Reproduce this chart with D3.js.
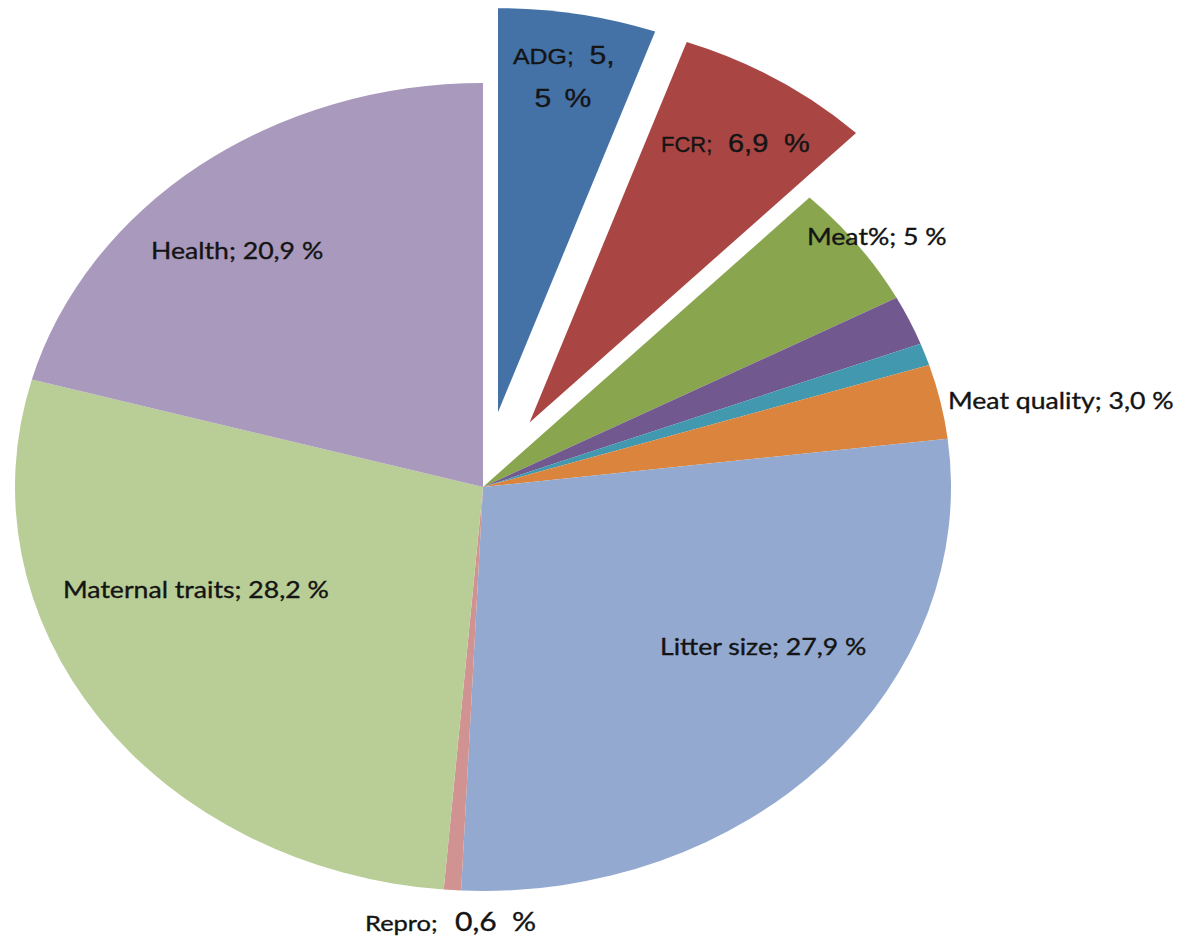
<!DOCTYPE html>
<html>
<head>
<meta charset="utf-8">
<script src="https://cdn.jsdelivr.net/npm/d3@7"></script>
<style>
  html, body { margin: 0; padding: 0; background: #fff; }
  svg { display: block; }
</style>
</head>
<body>
<svg id="chart" width="1183" height="938"></svg>
<script>
// Breeding-goal weights per trait group (percent), clockwise from 12 o'clock
const categories = ["ADG", "FCR", "Meat%", "Other A", "Other B", "Meat quality",
                    "Litter size", "Repro", "Maternal traits", "Health"];
const values     = [5.5, 6.9, 5, 2.0, 0.9, 3.0, 27.9, 0.6, 28.2, 20.9];
const decimals   = [1, 1, 0, 1, 1, 1, 1, 1, 1, 1];
const colors     = ["#4472a7", "#a94543", "#89a54e", "#71588f", "#4198af", "#db843d",
                    "#93a9cf", "#d09392", "#b9cd96", "#a99abd"];
const exploded   = ["ADG", "FCR"];
const labelled   = ["ADG", "FCR", "Meat%", "Meat quality", "Litter size", "Repro",
                    "Maternal traits", "Health"];

// Layout
const cx = 483, cy = 487;
const rx = 468, ry = 404;          // pie is drawn as a flattened ellipse
const stretch = rx / ry;           // text shares the same horizontal stretch
const explodeDist = 88;
const calibri = "Lato, 'Open Sans', sans-serif";
const arial = "'Liberation Sans', Arial, sans-serif";

const fmt = (v, d) => d3.format("." + d + "f")(v).replace(".", ",");

const svg = d3.select("#chart");

const data = categories.map((c, i) => ({ name: c, value: values[i], color: colors[i], dec: decimals[i] }));

const pie = d3.pie().value(d => d.value).sort(null).startAngle(0).endAngle(2 * Math.PI);
const arc = d3.arc().innerRadius(0).outerRadius(rx);
const arcs = pie(data);

const g = svg.append("g")
  .attr("transform", `translate(${cx},${cy}) scale(1,${ry / rx})`);

g.selectAll("path")
  .data(arcs)
  .join("path")
  .attr("d", arc)
  .attr("fill", d => d.data.color)
  .attr("transform", d => {
    if (!exploded.includes(d.data.name)) return null;
    const mid = (d.startAngle + d.endAngle) / 2;
    return `translate(${explodeDist * Math.sin(mid)},${-explodeDist * Math.cos(mid)})`;
  });

// Label text pieces built from the values
const byName = Object.fromEntries(data.map(d => [d.name, d]));
function pieces(name) {
  const d = byName[name];
  const txt = fmt(d.value, d.dec);
  switch (name) {
    case "ADG": {
      const [a, b] = txt.split(",");
      return [
        { t: "ADG;", x: 513, y: 64, s: 21.5, f: arial },
        { t: a + ",", x: 589.5, y: 64, s: 26, f: arial },
        { t: b, x: 534.5, y: 107, s: 26, f: arial },
        { t: "%", x: 564.5, y: 107, s: 26, f: arial }
      ];
    }
    case "FCR":
      return [
        { t: "FCR;", x: 661, y: 152, s: 22, f: arial, sx: 1 },
        { t: txt, x: 728, y: 152, s: 25, f: arial },
        { t: "%", x: 784, y: 152, s: 25, f: arial }
      ];
    case "Repro":
      return [
        { t: "Repro;", x: 365, y: 931, s: 22, f: calibri },
        { t: txt, x: 455, y: 931, s: 26, f: calibri },
        { t: "%", x: 512, y: 931, s: 26, f: calibri }
      ];
    case "Meat%":
      return [{ t: `${name}; ${txt} %`, x: 807, y: 245, s: 23, f: calibri }];
    case "Meat quality":
      return [{ t: `${name}; ${txt} %`, x: 948, y: 409, s: 23, f: calibri }];
    case "Litter size":
      return [{ t: `${name}; ${txt} %`, x: 660, y: 655, s: 23, f: calibri }];
    case "Maternal traits":
      return [{ t: `${name}; ${txt} %`, x: 63, y: 598, s: 23, f: calibri }];
    case "Health":
      return [{ t: `${name}; ${txt} %`, x: 151, y: 259, s: 23, f: calibri }];
  }
  return [];
}

const labels = svg.append("g").attr("class", "labels");
labelled.forEach(name => {
  labels.selectAll(null)
    .data(pieces(name))
    .join("text")
    .attr("transform", p => `translate(${p.x},${p.y}) scale(${p.sx ?? stretch},1)`)
    .attr("font-family", p => p.f)
    .attr("font-size", p => p.s)
    .attr("fill", "#141414")
    .attr("stroke", "#141414")
    .attr("stroke-width", 0.35)
    .text(p => p.t);
});
</script>
</body>
</html>
